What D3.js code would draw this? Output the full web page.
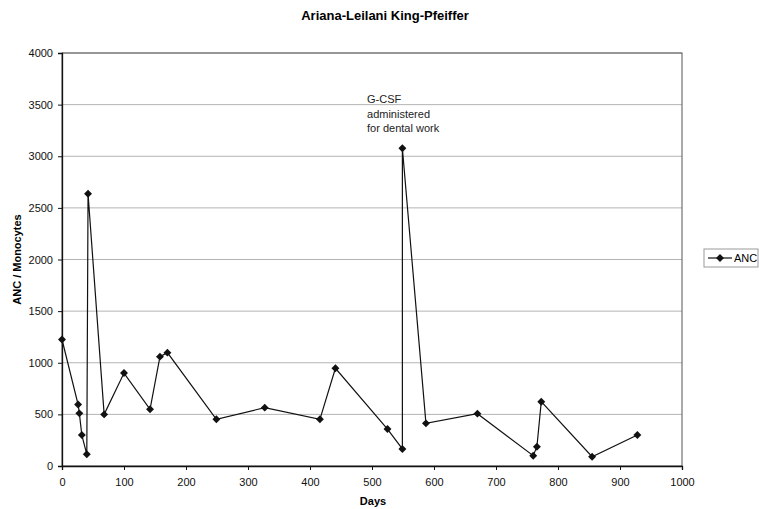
<!DOCTYPE html>
<html><head><meta charset="utf-8">
<script src="https://cdn.jsdelivr.net/npm/d3@7"></script>
<style>body{margin:0;background:#fff;} text{font-family:"Liberation Sans",Arial,sans-serif;}</style>
</head><body>
<svg id="c" width="759" height="509"></svg>
<script>
const days = [0, 26, 28, 32, 40, 42, 68, 100, 142, 158, 170, 249, 327, 416, 441, 525, 549, 549, 587, 670, 760, 766, 773, 855, 928];
const anc  = [1225, 595, 510, 300, 113, 2637, 500, 900, 549, 1059, 1098, 452, 565, 452, 946, 358, 165, 3077, 413, 507, 100, 187, 623, 90, 300];
const xTicks = [0,100,200,300,400,500,600,700,800,900,1000];
const yTicks = [0,500,1000,1500,2000,2500,3000,3500,4000];
const title = "Ariana-Leilani King-Pfeiffer";
const xLabel = "Days";
const yLabel = "ANC / Monocytes";
const seriesName = "ANC";
const noteLines = ["G-CSF","administered","for dental work"];
const noteAt = {day: 492, value: 3520};

const svg = d3.select("#c");
const L=62, R=682, T=53, B=466;
const x = d3.scaleLinear().domain([0,1000]).range([L,R]);
const y = d3.scaleLinear().domain([0,4000]).range([B,T]);

// gridlines
svg.append("g").selectAll("line").data(yTicks.slice(1)).join("line")
  .attr("x1",L).attr("x2",R).attr("y1",d=>y(d)).attr("y2",d=>y(d))
  .attr("stroke","#b4b4b4").attr("stroke-width",1);
// frame
svg.append("rect").attr("x",L).attr("y",T).attr("width",R-L).attr("height",B-T)
  .attr("fill","none").attr("stroke","#555").attr("stroke-width",1);

const fmt = d3.format("d");
const xa = svg.append("g").attr("transform",`translate(0,${B})`)
  .call(d3.axisBottom(x).tickValues(xTicks).tickFormat(fmt).tickSize(4).tickPadding(8));
const ya = svg.append("g").attr("transform",`translate(${L},0)`)
  .call(d3.axisLeft(y).tickValues(yTicks).tickFormat(fmt).tickSize(4).tickPadding(5));
[xa,ya].forEach(a=>{a.selectAll("text").attr("font-size",11).attr("fill","#111").style("font-family","'Liberation Sans',Arial,sans-serif");
  a.select(".domain").attr("stroke","#111").attr("stroke-width",1.3);
  a.selectAll(".tick line").attr("stroke","#111");});

const pts = days.map((d,i)=>[d,anc[i]]);
svg.append("path").datum(pts)
  .attr("d",d3.line().x(d=>x(d[0])).y(d=>y(d[1])))
  .attr("fill","none").attr("stroke","#111").attr("stroke-width",1.2);
const diamond = d3.symbol().type(d3.symbolDiamond2).size(40);
svg.append("g").selectAll("path").data(pts).join("path")
  .attr("d",diamond).attr("transform",d=>`translate(${x(d[0])},${y(d[1])})`)
  .attr("fill","#111");

svg.append("text").attr("x",385).attr("y",20).attr("text-anchor","middle")
  .attr("font-size",13).attr("font-weight","bold").text(title);
svg.append("text").attr("x",373).attr("y",505).attr("text-anchor","middle")
  .attr("font-size",11).attr("font-weight","bold").text(xLabel);
svg.append("text").attr("transform",`translate(21,${(T+B)/2}) rotate(-90)`).attr("text-anchor","middle")
  .attr("font-size",11).attr("font-weight","bold").text(yLabel);

const nt = svg.append("text").attr("font-size",11).attr("fill","#222");
noteLines.forEach((s,i)=>nt.append("tspan").attr("x",x(noteAt.day)).attr("y",y(noteAt.value) + i*14 + (i===0?0:1)).text(s));

// legend
const lg = svg.append("g").attr("transform","translate(704,249)");
lg.append("rect").attr("width",54).attr("height",18).attr("fill","#fff").attr("stroke","#999");
lg.append("line").attr("x1",4).attr("x2",28).attr("y1",9).attr("y2",9).attr("stroke","#111").attr("stroke-width",1.2);
lg.append("path").attr("d",diamond).attr("transform","translate(16,9)").attr("fill","#111");
lg.append("text").attr("x",30).attr("y",13).attr("font-size",11).text(seriesName);
</script>
</body></html>
